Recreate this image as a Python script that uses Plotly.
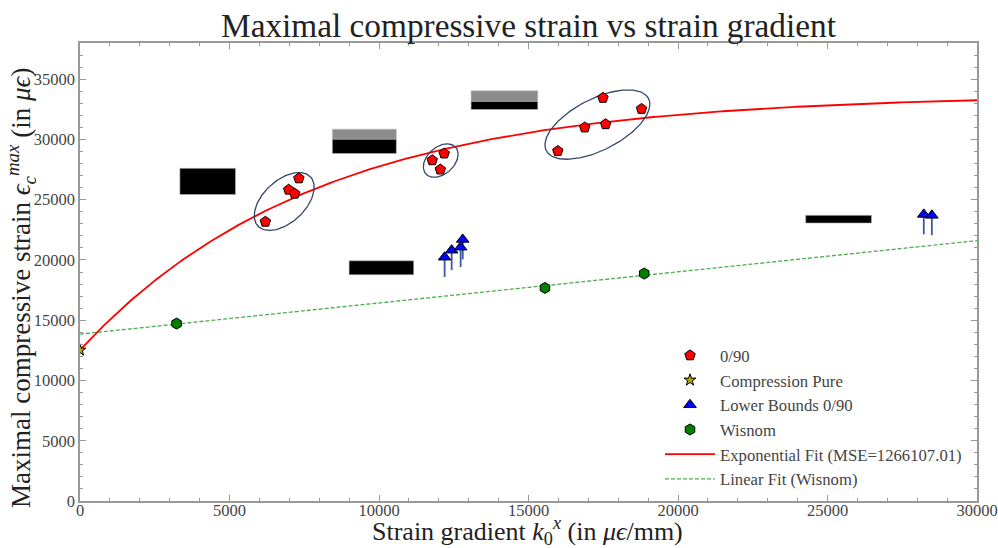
import numpy as np
import plotly.graph_objects as go

# ---------------- data ----------------
x_090 = [6200, 6980, 7180, 7320, 11780, 12180, 12050, 15980, 16880, 17490, 17580, 18780]
y_090 = [23170, 25830, 25500, 26770, 28270, 28830, 27500, 29040, 30990, 33450, 31260, 32530]

x_pure = [0]
y_pure = [12520]

x_lower = [12195, 12430, 12730, 12800, 28220, 28490]
y_lower = [20230, 20810, 21060, 21700, 23780, 23700]

x_wisnom = [3230, 15550, 18870]
y_wisnom = [14720, 17680, 18870]

# exponential fit parameters  y = A - B * exp(-x / tau)
EXP_A = 33720
EXP_B = 21200
EXP_TAU = 7880
MSE_TEXT = "1266107.01"

x_tick_vals = [0, 5000, 10000, 15000, 20000, 25000, 30000]
y_tick_vals = [0, 5000, 10000, 15000, 20000, 25000, 30000, 35000]

# obscured (blacked-out) boxes: x0, x1, y0, y1, colour
boxes = [
    (3340, 5200, 25420, 27600, "#000000"),
    (8440, 10580, 30010, 30850, "#8c8c8c"),
    (8440, 10580, 28830, 30010, "#000000"),
    (9000, 11160, 18770, 19930, "#000000"),
    (13080, 15310, 33150, 34030, "#8c8c8c"),
    (13080, 15310, 32480, 33150, "#000000"),
    (24270, 26470, 23060, 23700, "#000000"),
]

# cluster ellipses: centre x, centre y (data), semi-axes (px), angle (deg)
ellipses = [
    (6830, 24850, 36, 21, 43),
    (12065, 28245, 20, 13.5, 42),
    (17305, 31233, 57.4, 25.7, 27),
]

# ---------------- layout constants ----------------
W, H = 998, 548
M_L, M_R, M_T, M_B = 80, 21, 43, 47
X_RANGE = [0, 30000]
Y_RANGE = [0, 38000]
plot_w = W - M_L - M_R
plot_h = H - M_T - M_B
XU = (X_RANGE[1] - X_RANGE[0]) / plot_w
YU = (Y_RANGE[1] - Y_RANGE[0]) / plot_h
PLOT_BOTTOM = M_T + plot_h

FONT = "Liberation Serif, DejaVu Serif, serif"
TXT = "#444444"
TITLE_COL = "#222222"

fig = go.Figure()

# fits
xf = np.linspace(0, 30000, 400)
yf = EXP_A - EXP_B * np.exp(-xf / EXP_TAU)
fig.add_trace(go.Scatter(x=xf, y=yf, mode="lines",
                         line=dict(color="#ff0000", width=1.8),
                         name=f"Exponential Fit (MSE={MSE_TEXT})",
                         legendrank=5, legendgroup="e"))
slope, intercept = np.polyfit(x_wisnom, y_wisnom, 1)
xl = np.array([0, 30000])
fig.add_trace(go.Scatter(x=xl, y=intercept + slope * xl, mode="lines",
                         line=dict(color="rgba(44,160,44,0.85)", width=1.3, dash="4px,2px"),
                         name="Linear Fit (Wisnom)", legendrank=6, legendgroup="f"))

# ellipses
for cx, cy, a, b, ang in ellipses:
    t = np.linspace(0, 2 * np.pi, 200)
    th = np.radians(ang)
    u = a * np.cos(t) * np.cos(th) - b * np.sin(t) * np.sin(th)
    v = a * np.cos(t) * np.sin(th) + b * np.sin(t) * np.cos(th)
    fig.add_trace(go.Scatter(x=cx + u * XU, y=cy + v * YU, mode="lines",
                             line=dict(color="#34466a", width=1.3),
                             showlegend=False, hoverinfo="skip"))

# arrows for lower bounds
ARROW_LEN = 1650
ax_, ay_ = [], []
for xv, yv in zip(x_lower, y_lower):
    ax_ += [xv, xv, None]
    ay_ += [yv - ARROW_LEN, yv, None]
fig.add_trace(go.Scatter(x=ax_, y=ay_, mode="lines",
                         line=dict(color="#3a5a9c", width=1.8),
                         showlegend=False, hoverinfo="skip"))

# markers
fig.add_trace(go.Scatter(x=x_090, y=y_090, mode="markers", name="0/90",
                         marker=dict(symbol="pentagon", size=11, color="#ff0000",
                                     line=dict(color="#000000", width=1)),
                         legendrank=1, legendgroup="a"))
fig.add_trace(go.Scatter(x=x_pure, y=y_pure, mode="markers", name="Compression Pure",
                         marker=dict(symbol="star", size=9, color="#b5a800",
                                     line=dict(color="#000000", width=1)),
                         legendrank=2, legendgroup="b"))
fig.add_trace(go.Scatter(x=x_lower, y=y_lower, mode="markers", name="Lower Bounds 0/90",
                         marker=dict(symbol="triangle-up", size=11, color="#0000ff",
                                     line=dict(color="#000000", width=1)),
                         legendrank=3, legendgroup="c"))
fig.add_trace(go.Scatter(x=x_wisnom, y=y_wisnom, mode="markers", name="Wisnom",
                         marker=dict(symbol="hexagon", size=11, color="#008000",
                                     line=dict(color="#000000", width=1)),
                         legendrank=4, legendgroup="d"))

for x0, x1, y0, y1, col in boxes:
    fig.add_shape(type="rect", xref="x", yref="y", x0=x0, x1=x1, y0=y0, y1=y1,
                  fillcolor=col, line=dict(color="#bbbbbb", width=0.6), layer="above")

# axis titles as annotations (for exact placement)
fig.add_annotation(text="Strain gradient <i>k</i><sub>0</sub><sup><i>x</i></sup> (in <i>μϵ</i>/mm)",
                   xref="paper", yref="paper",
                   x=(527.5 - M_L) / plot_w, y=(PLOT_BOTTOM - 531) / plot_h,
                   xanchor="center", yanchor="middle", showarrow=False,
                   font=dict(family=FONT, size=26, color=TITLE_COL))
fig.add_annotation(text="Maximal compressive strain <i>ϵ</i><sub><i>c</i></sub><sup><i>max</i></sup> (in <i>μϵ</i>)",
                   xref="paper", yref="paper", textangle=-90,
                   x=(21 - M_L) / plot_w, y=(PLOT_BOTTOM - 288) / plot_h,
                   xanchor="center", yanchor="middle", showarrow=False,
                   font=dict(family=FONT, size=27, color=TITLE_COL))

axis_common = dict(
    showgrid=False, zeroline=False, showline=True, linecolor="#999999", linewidth=1.5,
    mirror="ticks", ticks="inside", ticklen=6, tickcolor="#999999", tickwidth=1,
    tickfont=dict(family=FONT, size=16.5, color=TXT),
)

fig.update_layout(
    width=W, height=H,
    margin=dict(l=M_L, r=M_R, t=M_T, b=M_B),
    paper_bgcolor="white", plot_bgcolor="white",
    title=dict(text="Maximal compressive strain vs strain gradient",
               font=dict(family=FONT, size=33.3, color=TITLE_COL),
               x=0.5, xref="paper", xanchor="center",
               y=1 - 25 / H, yref="container", yanchor="middle"),
    xaxis=dict(range=X_RANGE, tickvals=x_tick_vals,
               ticktext=[str(v) for v in x_tick_vals],
               minor=dict(ticks="inside", dtick=1000, ticklen=3, tickcolor="#999999"),
               ticklabelstandoff=-7,
               **axis_common),
    yaxis=dict(range=Y_RANGE, tickvals=y_tick_vals,
               ticktext=[str(v) for v in y_tick_vals],
               minor=dict(ticks="inside", dtick=1000, ticklen=3, tickcolor="#999999"),
               **axis_common),
    legend=dict(x=(660 - M_L) / plot_w, xanchor="left", y=(PLOT_BOTTOM - 338) / plot_h,
                yanchor="top", bgcolor="rgba(255,255,255,0)", borderwidth=0,
                itemwidth=50,
                font=dict(family=FONT, size=16.7, color=TXT), tracegroupgap=1,
                traceorder="normal"),
    showlegend=True,
)
fig.update_xaxes(automargin=False)
fig.update_yaxes(automargin=False)

fig.write_html("out.html", config={"displayModeBar": False},
               post_script="document.body.style.margin='0px';document.body.style.overflow='hidden';")
